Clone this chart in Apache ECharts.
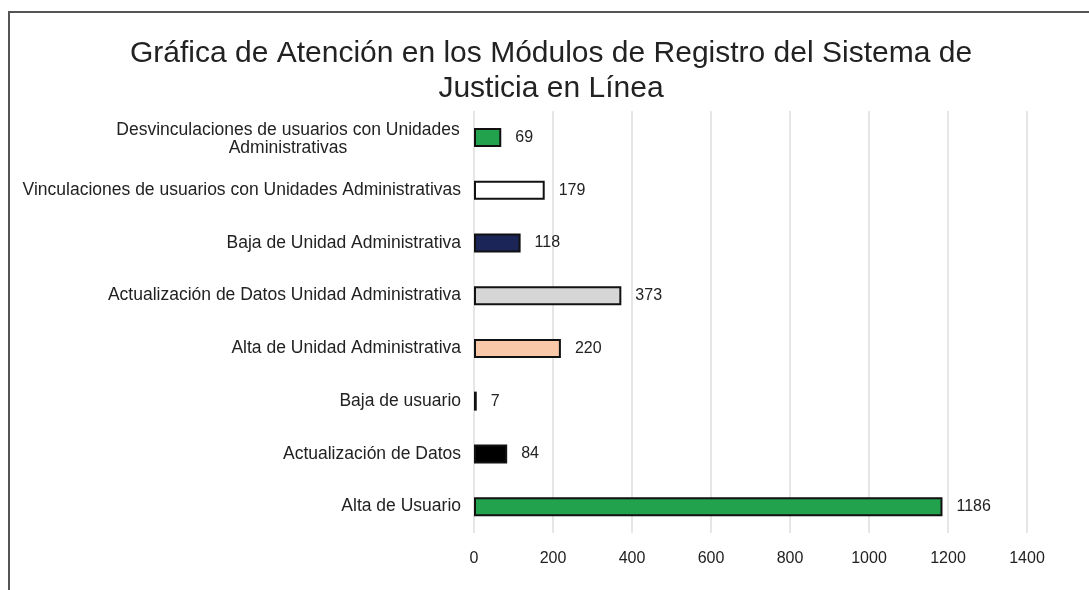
<!DOCTYPE html>
<html><head><meta charset="utf-8">
<script src="https://cdn.jsdelivr.net/npm/echarts@6/dist/echarts.min.js"></script>
<style>html,body{margin:0;padding:0;background:#fff}#c{width:1089px;height:590px}
#frame{position:absolute;left:8px;top:11px;width:1090px;height:600px;border:2px solid #555;box-sizing:border-box;pointer-events:none}</style>
</head><body><div id="c"></div><div id="frame"></div>
<script>
var categories = ['Alta de Usuario','Actualización de Datos','Baja de usuario','Alta de Unidad Administrativa','Actualización de Datos Unidad Administrativa','Baja de Unidad Administrativa','Vinculaciones de usuarios con Unidades Administrativas','Desvinculaciones de usuarios con Unidades\nAdministrativas'];
var values = [1186, 84, 7, 220, 373, 118, 179, 69];
var colors = ['#22a24d','#000000','#1b1f3a','#f8c8a8','#d6d6d6','#1c2558','#ffffff','#22a24d'];
var xTicks = [0,200,400,600,800,1000,1200,1400];
var FF = '"Liberation Sans", Arial, sans-serif';

var chart = echarts.init(document.getElementById('c'));
chart.setOption({
  animation:false,
  title:{text:'Gráfica de Atención en los Módulos de Registro del Sistema de\nJusticia en Línea',left:546,top:31,textAlign:'center',
    textStyle:{fontFamily:FF,fontSize:30,fontWeight:'normal',color:'#222',lineHeight:35}},
  grid:{left:474,right:62,top:111,bottom:57},
  xAxis:{type:'value',min:xTicks[0],max:xTicks[xTicks.length-1],interval:200,
    axisLine:{show:false},axisTick:{show:false},
    axisLabel:{fontFamily:FF,fontSize:16,color:'#222',margin:18,formatter:function(v){return String(v);}},
    splitLine:{lineStyle:{color:'#e6e6e6',width:2}}},
  yAxis:{type:'category',data:categories,axisLine:{show:false},axisTick:{show:false},
    axisLabel:{fontFamily:FF,fontSize:17.5,color:'#222',margin:13,
      formatter:function(v){
        if(v.indexOf('\n')>=0){var p=v.split('\n');return '{c|'+p[0]+'}\n{c|'+p[1]+'}';}
        return v;},
      rich:{c:{width:346,align:'center',fontFamily:FF,fontSize:17.5,color:'#222',lineHeight:18,padding:[3,0,0,0]}}}},
  series:[{type:'bar',barWidth:19,
    data:values.map(function(v,i){return {value:v,itemStyle:{color:colors[i],borderColor:'#111',borderWidth:2}};}),
    label:{show:true,position:'right',distance:14,fontFamily:FF,fontSize:16,color:'#222'}}]
});
</script></body></html>
